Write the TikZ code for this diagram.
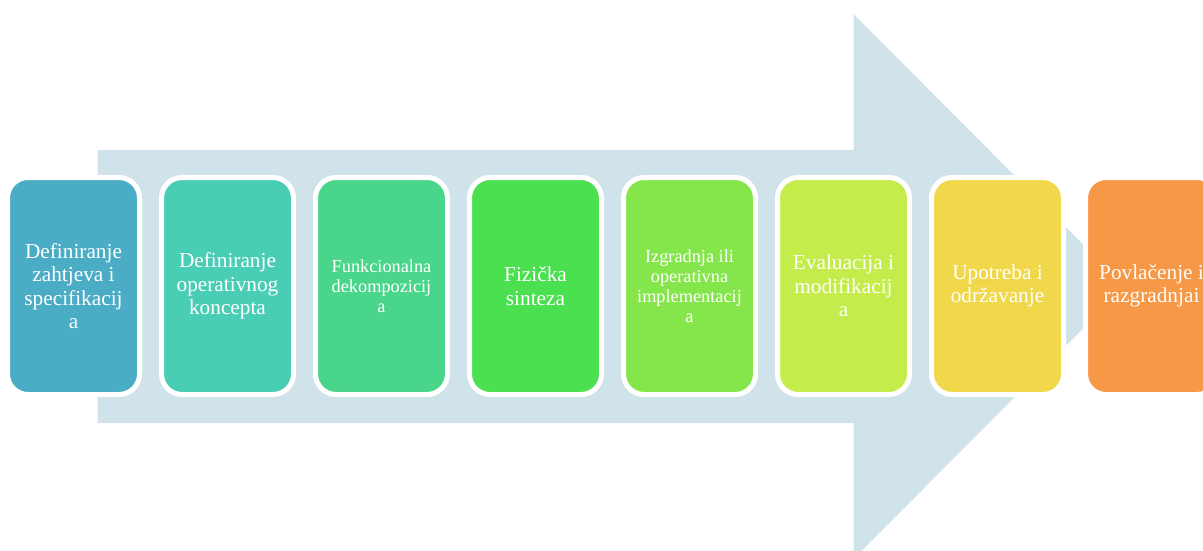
\documentclass[tikz,border=0pt]{standalone}
\usepackage{fontspec}
\setmainfont{Liberation Serif}
\definecolor{arrowc}{RGB}{208,226,234}
\definecolor{c1}{RGB}{75,172,198}
\definecolor{c2}{RGB}{74,205,181}
\definecolor{c3}{RGB}{74,214,138}
\definecolor{c4}{RGB}{74,224,80}
\definecolor{c5}{RGB}{132,230,74}
\definecolor{c6}{RGB}{196,236,74}
\definecolor{c7}{RGB}{240,216,74}
\definecolor{c8}{RGB}{247,152,71}
\tikzset{
  stepbox/.style={rectangle, rounded corners=20.5pt, draw=white, line width=5pt,
    minimum width=132pt, minimum height=217pt, inner sep=0pt, outer sep=0pt,
    align=center, text=white, font=\fontsize{21.3}{23.5}\selectfont},
  smalltext/.style={font=\fontsize{18.3}{20}\selectfont}
}
\begin{document}
\begin{tikzpicture}[x=1pt,y=-1pt]
\useasboundingbox (0,0) rectangle (1203,551);
\clip (0,0) rectangle (1203,551);
% big arrow
\fill[arrowc] (97.5,150) -- (853.5,150) -- (853.5,14) -- (1125,286.5) -- (853.5,559) -- (853.5,423) -- (97.5,423) -- cycle;
% boxes
\node[stepbox, fill=c1] (b1) at (73.5,286) {Definiranje\\zahtjeva i\\specifikacij\\a};
\node[stepbox, fill=c2] (b2) at (227.5,286) {Definiranje\\operativnog\\koncepta};
\node[stepbox, smalltext, fill=c3] (b3) at (381.5,286) {Funkcionalna\\dekompozicij\\a};
\node[stepbox, fill=c4] (b4) at (535.5,286) {Fizička\\sinteza};
\node[stepbox, smalltext, fill=c5] (b5) at (689.5,286) {Izgradnja ili\\operativna\\implementacij\\a};
\node[stepbox, fill=c6] (b6) at (843.5,286) {Evaluacija i\\modifikacij\\a};
\node[stepbox, fill=c7] (b7) at (997.5,286) {Upotreba i\\održavanje};
\node[stepbox, fill=c8] (b8) at (1151.5,286) {Povlačenje i\\razgradnjai};
\end{tikzpicture}
\end{document}
